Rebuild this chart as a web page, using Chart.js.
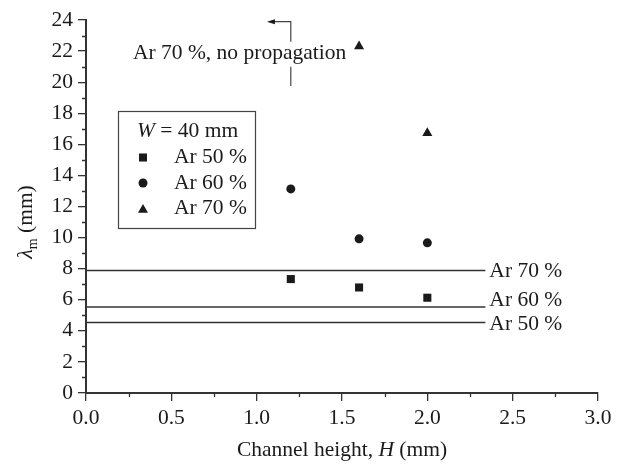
<!DOCTYPE html>
<html>
<head>
<meta charset="utf-8">
<script src="https://cdn.jsdelivr.net/npm/chart.js@4/dist/chart.umd.min.js"></script>
<style>
  html, body { margin: 0; padding: 0; background: #fff; }
  canvas { display: block; }
</style>
</head>
<body>
<canvas id="grafico-lambda" width="623" height="468"></canvas>
<script>
// Datos
const alturas = [1.2, 1.6, 2.0];
const ar50 = [7.33, 6.79, 6.13];
const ar60 = [13.13, 9.92, 9.66];
const alturasAr70 = [1.6, 2.0];
const ar70 = [22.3, 16.73];

const nivelesNombre = ["Ar 70 %", "Ar 60 %", "Ar 50 %"];
const niveles = [7.88, 5.53, 4.54];
const finNivel = 2.34;

const ticksX = [0, 0.5, 1.0, 1.5, 2.0, 2.5, 3.0];
const ticksY = [0, 2, 4, 6, 8, 10, 12, 14, 16, 18, 20, 22, 24];

const negro = "#1a1a1a";
const fuente = "Liberation Serif";

function puntos(xs, ys) {
  return xs.map((v, i) => ({ x: v, y: ys[i] }));
}

function dibujarMarca(ctx, estilo, radio, px, py) {
  ctx.fillStyle = negro;
  if (Chart.helpers && Chart.helpers.drawPoint) {
    Chart.helpers.drawPoint(ctx, { pointStyle: estilo, radius: radio, rotation: 0, borderWidth: 0 }, px, py);
  }
}

const dibujoExtra = {
  id: "dibujoExtra",
  afterDraw(chart) {
    const ctx = chart.ctx;
    const x = chart.scales.x;
    const y = chart.scales.y;
    ctx.save();

    // ticks menores
    ctx.strokeStyle = "#333";
    ctx.lineWidth = 1.3;
    ctx.beginPath();
    for (let v = 1; v < 24; v += 2) {
      const py = Math.round(y.getPixelForValue(v)) + 0.5;
      ctx.moveTo(x.left - 4, py);
      ctx.lineTo(x.left, py);
    }
    for (let v = 0.25; v < 3; v += 0.5) {
      const px = Math.round(x.getPixelForValue(v)) + 0.5;
      ctx.moveTo(px, y.bottom);
      ctx.lineTo(px, y.bottom + 4);
    }
    ctx.stroke();

    // etiquetas de niveles
    ctx.fillStyle = negro;
    ctx.font = "21.5px " + fuente;
    ctx.textBaseline = "middle";
    ctx.textAlign = "left";
    const desplaz = [1, -7, 2];
    niveles.forEach((nv, i) => {
      ctx.fillText(nivelesNombre[i], x.getPixelForValue(finNivel) + 4, y.getPixelForValue(nv) + desplaz[i]);
    });

    // anotacion "no propagation"
    ctx.fillText("Ar 70 %, no propagation", 133, 53);
    const ax = x.getPixelForValue(alturas[0]);
    ctx.strokeStyle = "#444";
    ctx.lineWidth = 1.2;
    ctx.beginPath();
    ctx.moveTo(ax, y.getPixelForValue(19.75));
    ctx.lineTo(ax, y.getPixelForValue(21.0));
    ctx.moveTo(ax, y.getPixelForValue(22.6));
    ctx.lineTo(ax, y.getPixelForValue(23.89));
    ctx.lineTo(x.getPixelForValue(1.08), y.getPixelForValue(23.89));
    ctx.stroke();
    const fx = x.getPixelForValue(1.06);
    const fy = y.getPixelForValue(23.89);
    ctx.fillStyle = negro;
    ctx.beginPath();
    ctx.moveTo(fx, fy);
    ctx.lineTo(fx + 8, fy - 2.5);
    ctx.lineTo(fx + 8, fy + 2.5);
    ctx.closePath();
    ctx.fill();

    // leyenda
    ctx.strokeStyle = "#444";
    ctx.lineWidth = 1.2;
    ctx.strokeRect(118.5, 111.5, 137, 117);
    ctx.fillStyle = negro;
    ctx.font = "italic 21.5px " + fuente;
    ctx.fillText("W", 137, 131);
    const wAncho = ctx.measureText("W").width;
    ctx.font = "21.5px " + fuente;
    ctx.fillText(" = 40 mm", 137 + wAncho, 131);
    const filas = [
      ["rect", 5.7, "Ar 50 %"],
      ["circle", 4.5, "Ar 60 %"],
      ["triangle", 5.8, "Ar 70 %"],
    ];
    filas.forEach((f, i) => {
      const fyl = [157.5, 183, 208.5][i];
      dibujarMarca(ctx, f[0], f[1], 143, fyl + (f[0] === "triangle" ? 1.4 : 0));
      ctx.fillStyle = negro;
      ctx.fillText(f[2], 174, fyl);
    });

    // titulo eje x
    ctx.textBaseline = "middle";
    const cx = (x.left + x.right) / 2;
    const partes = [["Channel height, ", ""], ["H", "italic "], [" (mm)", ""]];
    let total = 0;
    partes.forEach((p) => {
      ctx.font = p[1] + "21.5px " + fuente;
      total += ctx.measureText(p[0]).width;
    });
    let pos = cx - total / 2;
    partes.forEach((p) => {
      ctx.font = p[1] + "21.5px " + fuente;
      ctx.fillText(p[0], pos, 450);
      pos += ctx.measureText(p[0]).width;
    });

    // titulo eje y
    ctx.translate(26, 222);
    ctx.rotate(-Math.PI / 2);
    ctx.font = "italic 22px " + fuente;
    const wl = ctx.measureText("\u03bb").width;
    ctx.font = "14px " + fuente;
    const wm = ctx.measureText("m").width;
    ctx.font = "21.5px " + fuente;
    const wr = ctx.measureText(" (mm)").width;
    let p0 = -(wl + wm + wr) / 2;
    ctx.font = "italic 22px " + fuente;
    ctx.fillText("\u03bb", p0, 0);
    p0 += wl;
    ctx.font = "14px " + fuente;
    ctx.fillText("m", p0, 7);
    p0 += wm;
    ctx.font = "21.5px " + fuente;
    ctx.fillText(" (mm)", p0, 0);

    ctx.restore();
  },
};

const datasetsNiveles = niveles.map((nv) => ({
  type: "line",
  data: [{ x: 0, y: nv }, { x: finNivel, y: nv }],
  borderColor: "#333",
  borderWidth: 1.4,
  pointRadius: 0,
  fill: false,
}));

const ctx = document.getElementById("grafico-lambda").getContext("2d");
new Chart(ctx, {
  type: "scatter",
  data: {
    datasets: [
      ...datasetsNiveles,
      { label: "Ar 50 %", data: puntos(alturas, ar50), pointStyle: "rect", pointRadius: 5.7, backgroundColor: negro, borderWidth: 0 },
      { label: "Ar 60 %", data: puntos(alturas, ar60), pointStyle: "circle", pointRadius: 4.5, backgroundColor: negro, borderWidth: 0 },
      { label: "Ar 70 %", data: puntos(alturasAr70, ar70), pointStyle: "triangle", pointRadius: 5.8, backgroundColor: negro, borderWidth: 0 },
    ],
  },
  options: {
    responsive: false,
    animation: false,
    events: [],
    layout: { autoPadding: false, padding: { top: 20, right: 25, left: 0, bottom: 0 } },
    plugins: { legend: { display: false }, tooltip: { enabled: false } },
    scales: {
      x: {
        type: "linear",
        min: 0,
        max: 3,
        afterFit: (s) => { s.height = 75; },
        afterBuildTicks: (s) => { s.ticks = ticksX.map((v) => ({ value: v })); },
        ticks: { callback: (v) => v.toFixed(1), color: negro, font: { family: fuente, size: 21.5 }, padding: 4, maxRotation: 0, autoSkip: false },
        grid: { display: true, drawOnChartArea: false, drawTicks: true, tickLength: 8, color: "#333", lineWidth: 1.3 },
        border: { display: true, color: "#333", width: 2 },
      },
      y: {
        type: "linear",
        min: 0,
        max: 24,
        afterFit: (s) => { s.width = 86; },
        afterBuildTicks: (s) => { s.ticks = ticksY.map((v) => ({ value: v })); },
        ticks: { color: negro, font: { family: fuente, size: 21.5 }, padding: 5, autoSkip: false },
        grid: { display: true, drawOnChartArea: false, drawTicks: true, tickLength: 8, color: "#333", lineWidth: 1.3 },
        border: { display: true, color: "#333", width: 2 },
      },
    },
  },
  plugins: [dibujoExtra],
});
</script>
</body>
</html>
